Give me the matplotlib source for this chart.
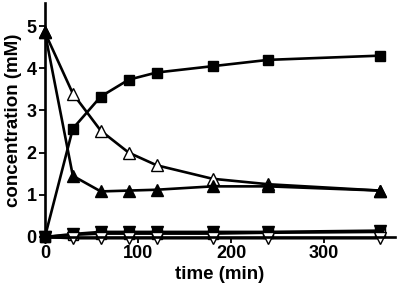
import matplotlib
matplotlib.use("Agg")
import matplotlib.pyplot as plt

plt.rcParams["font.family"] = ["Liberation Sans", "DejaVu Sans"]
plt.rcParams["font.weight"] = "bold"

# ==================== data ====================
time = [0, 30, 60, 90, 120, 180, 240, 360]

filled_square   = [0.0, 2.57, 3.33, 3.73, 3.90, 4.05, 4.20, 4.30]
open_up_tri     = [4.85, 3.40, 2.52, 2.00, 1.70, 1.38, 1.25, 1.10]
filled_up_tri   = [4.85, 1.45, 1.08, 1.10, 1.12, 1.20, 1.20, 1.10]
open_square     = [0.0, 0.05, 0.08, 0.08, 0.08, 0.08, 0.10, 0.12]
filled_down_tri = [0.0, 0.07, 0.12, 0.12, 0.12, 0.12, 0.12, 0.15]
open_down_tri   = [0.0, -0.03, -0.03, -0.03, -0.03, -0.03, -0.03, -0.03]

x_ticks = [0, 100, 200, 300]
y_ticks = [0, 1, 2, 3, 4, 5]

# ==================== plot ====================
fig = plt.figure(figsize=(4.01, 2.94), dpi=100)
ax = fig.add_axes([0.112, 0.194, 0.873, 0.796])

lw = 1.9
common = dict(color="black", linewidth=lw, clip_on=False, markeredgewidth=1.0)

ax.plot(time, open_square, marker="s", markersize=7, markerfacecolor="white",
        markeredgecolor="black", **common)
ax.plot(time, filled_down_tri, marker="v", markersize=8, markerfacecolor="black",
        markeredgecolor="black", **common)
ax.plot(time, open_down_tri, marker="v", markersize=8, markerfacecolor="white",
        markeredgecolor="black", **common)
ax.plot(time, open_up_tri, marker="^", markersize=8.5, markerfacecolor="white",
        markeredgecolor="black", **common)
ax.plot(time, filled_up_tri, marker="^", markersize=8.5, markerfacecolor="black",
        markeredgecolor="black", **common)
ax.plot(time, filled_square, marker="s", markersize=7.5, markerfacecolor="black",
        markeredgecolor="black", **common)

ax.set_xlim(0, 376)
ax.set_ylim(0, 5.55)
ax.set_xticks(x_ticks)
ax.set_yticks(y_ticks)

ax.spines["top"].set_visible(False)
ax.spines["right"].set_visible(False)
ax.spines["left"].set_linewidth(lw)
ax.spines["bottom"].set_linewidth(lw)
ax.tick_params(direction="out", length=4, width=1.3, labelsize=13, pad=2)

ax.set_xlabel("time (min)", fontsize=13.5, fontweight="bold", labelpad=3)
ax.set_ylabel("concentration (mM)", fontsize=13.5, fontweight="bold", labelpad=3)

fig.savefig("out.png", dpi=100)
